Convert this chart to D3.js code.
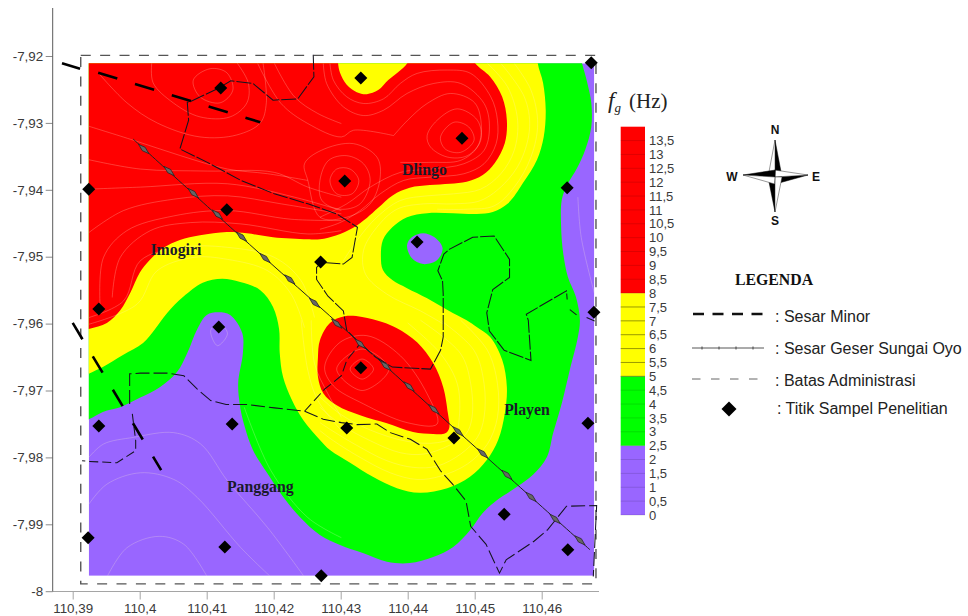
<!DOCTYPE html>
<html><head><meta charset="utf-8">
<script src="https://cdn.jsdelivr.net/npm/d3@7"></script>
<style>html,body{margin:0;background:#fff}svg{display:block}</style></head>
<body><svg id="c" width="968" height="616"></svg>
<script>
// ---- DATA: all map coordinates are [a,b] = thousandths of a degree east of 110.39 and south of -7.92
const lonTicks=[110.39,110.40,110.41,110.42,110.43,110.44,110.45,110.46];
const lonLabels=["110,39","110,4","110,41","110,42","110,43","110,44","110,45","110,46"];
const latTicks=[-7.92,-7.93,-7.94,-7.95,-7.96,-7.97,-7.98,-7.99,-8];
const latLabels=["-7,92","-7,93","-7,94","-7,95","-7,96","-7,97","-7,98","-7,99","-8"];
const scaleLevels=[13.5,13,12.5,12,11.5,11,10.5,10,9.5,9,8.5,8,7.5,7,6.5,6,5.5,5,4.5,4,3.5,3,2.5,2,1.5,1,0.5,0];
const scaleLabels=["13,5","13","12,5","12","11,5","11","10,5","10","9,5","9","8,5","8","7,5","7","6,5","6","5,5","5","4,5","4","3,5","3","2,5","2","1,5","1","0,5","0"];
const bandEdges=[0,2.5,5,8,14];
const bandColors=["#9966ff","#00ff00","#ffff00","#ff0000"];
const plotExtent=[[2.4,1.09],[77.85,77.7]];
const studyFrame=[[1.2,-0.1],[78.1,-0.1],[78.1,78.9],[1.2,78.9]];

const level2p5=[[-3,-3],[75,-3],[76,1],[76.8,4],[77.4,7],[77.4,10.6],[76.5,14],[75.3,16.7],[73.8,19.3],[73,21.5],[72.9,25.6],[73.2,29.4],[73.9,33],[75.1,36],[75.7,39.5],[75.4,42],[74.2,46.9],[73,51.9],[71.7,56.4],[70.8,59.9],[68.7,62.6],[66.3,64.4],[63.3,66.4],[61.2,68.3],[59.3,70.9],[56.8,73.4],[53.8,74.9],[50.3,75.8],[46.9,75.6],[43.3,74.3],[39.9,73.1],[36.9,71.6],[33.9,68.9],[31.4,65.9],[29,62.3],[26.9,58.9],[25.7,55.5],[25,52.5],[24.7,48.9],[25.4,44.4],[25.3,41.4],[23.5,38.7],[21.7,38.3],[20,38.7],[18.6,40.8],[17.1,44.4],[15.6,47.2],[13,49.5],[10,51.1],[7.1,52.5],[4.5,53.2],[2.4,54.3],[-1.9,55.9]];
const level5=[[-3,-3],[69.4,-2.4],[69.4,1],[70.2,4],[70.6,8.1],[70.3,12.1],[69.3,15.5],[67.2,19],[65,22],[62.7,23.3],[60.3,23.6],[56.8,23.5],[52.9,23.5],[49.9,24.1],[47.7,25.6],[46.3,27.5],[46,30],[46.3,32],[47.7,33.5],[49.9,34.7],[52.9,36.2],[56,38],[58.8,39.5],[60.3,40.5],[62.3,42],[64.1,45.4],[64.8,49.5],[64.5,53.4],[63.5,57.4],[61.8,60.4],[59.3,62.9],[55.9,64.6],[51.8,65.3],[48.4,64.6],[44.8,62.9],[41.4,60.8],[38.4,58.9],[36.9,57.4],[34.4,54.4],[32.7,51.4],[31.4,48],[30.9,44.4],[30.8,40.8],[29.9,37.5],[28,35],[25,33.8],[22.3,33.3],[19.4,33.9],[16.5,36],[14.1,38.4],[12.3,40.8],[10.5,42.9],[7.5,44.7],[4.5,46.5],[2.4,47.5],[-1.9,49.6]];
const level8North=[[-3,-3],[39.6,-1.6],[39.6,1],[39.9,2.5],[40.9,4.3],[42.4,5.4],[43.9,5.7],[45.6,5.1],[47.1,3.6],[48.6,2.4],[50,1],[51.5,-3],[58,-3],[60,1],[62.3,3.1],[64.1,6.1],[64.8,9.6],[64.5,13],[63,16],[61.2,17.8],[58.8,18.8],[56.3,19.1],[53.3,19.3],[50.3,19.7],[47.8,20.8],[45.6,22.7],[43.9,24.2],[41.8,25.7],[39.4,26.8],[36.9,27.4],[35,27.4],[29.9,27.1],[26,26.5],[23,26.3],[19,26.8],[16,27.5],[13.5,28.7],[11.5,30.5],[10,32.4],[8.6,35.4],[7.1,38],[5.1,39.9],[2.4,40.8],[-0.4,41.3],[-3.4,41.7]];
const level8South=[[36.6,45.1],[36.9,42.5],[38.4,39.9],[40.6,38.9],[43.2,39],[46.3,39.8],[48.4,40.7],[51.4,42.8],[53.8,45.9],[55.3,49.5],[56,53.4],[56.2,55.6],[55.6,56.4],[53.8,56.5],[50.8,56.2],[46.9,54.9],[42.9,53.7],[39.4,52.2],[37.4,50.4],[36.6,47.9]];
const level2p5Island=[[49.9,28.3],[50.6,27.1],[52.3,26.5],[54,27.1],[55.2,28.7],[54.4,30.5],[52.3,31.1],[50.6,30.2]];

const closedContours=[
[[18,3.6],[20.5,1.9],[23,2.5],[23.9,5.1],[22,7],[19,6.1]],
[[52.9,11.9],[54.4,9.6],[57.4,7.9],[60.4,9.6],[60.9,12.6],[58.9,14.9],[55.9,15.1],[53.4,13.6]],
[[54.9,12.1],[56.9,9.9],[59.1,10.6],[59.9,12.6],[57.9,14.4],[55.6,13.9]],
[[38.4,18.6],[39.4,16.9],[41.4,16.9],[42.7,18.6],[41.7,20.6],[39.4,20.6]],
[[36.9,18.6],[38.2,15.6],[40.9,14.9],[43.4,16.1],[44.4,18.6],[42.9,22.1],[39.9,22.9],[37.2,21.6]],
[[34.6,16.1],[37.1,14.1],[41.9,13.1],[45.4,15.1],[45.9,18.1],[44.4,22.1],[40.9,24.1],[36.9,24.1],[35.1,18.6]],
[[41.4,46.8],[43.2,45.3],[44.9,46.8],[43.2,48.3]],
[[39.4,46.8],[43.2,43.8],[47.2,46.8],[43.2,50]],
[[37.6,46.5],[39.9,42.8],[43.9,41.8],[48.9,44.8],[52.9,50.5],[54.4,55],[49.9,54.8],[43.4,52],[38.9,49.3]],
[[20.6,41],[21.9,40],[23.1,41.5],[21.6,43.3]]
];
const openContours=[
[[11.8,1],[12,4],[15,7],[19,9.1],[23.5,9.1],[26,7],[26.2,4],[24.5,1]],
[[3.8,2.5],[8.1,7],[12.6,10],[19,12.1],[24.5,11.8],[28,10],[28.9,7],[28.4,1]],
[[2.4,10.5],[9.1,12.6],[16.1,14.9],[23.1,16.9],[29.1,17.6],[35.1,18.6]],
[[2.4,15.5],[10.1,16.9],[20.1,17.2],[30.1,17.4],[35.1,19.6],[40.1,21.1]],
[[2.4,19.9],[10.1,19.6],[23.1,19.1],[33.1,21.1],[40.1,23.1]],
[[2.4,26.4],[7.6,23.1],[15.1,21.4],[23.1,20.9],[31.1,22.1],[40.1,23.6]],
[[4.1,37.6],[4.6,30.1],[8.1,26.1],[15.1,23.9],[23.1,23.1],[32.6,24.4],[40.1,24.6]],
[[5.9,36.1],[7.1,30.1],[11.6,26.1],[17.6,24.9],[25.1,25.1],[35.1,26.6],[40.1,26.1]],
[[27.6,1.1],[31.1,7.1],[35.1,10.1],[40.1,12.1],[41.9,11.1],[47.9,11.9]],
[[30.1,1.1],[33.1,6.1],[36.6,8.6],[40.1,10.1]],
[[47.9,11.9],[50,9.6],[52.9,7.1],[56.4,5.6],[60,7],[61,10.6],[60.4,13.6],[57.9,15.6],[53.4,15.9],[48.9,15.9]],
[[38.4,1.1],[38.9,3.6],[40.9,6.1],[43.4,7.1],[46.4,6.4],[48.9,4.1],[51.4,2.6],[55.9,2.1],[59.4,2.6],[62.4,6.1],[63.4,9.6],[63.2,13.1],[61.4,16.1],[58.4,17.6],[53.4,18.1],[49.4,18.6],[45.9,20.6],[42.9,23.1],[39.9,24.9],[36.9,25.9]],
[[37.4,1.1],[37.9,4.1],[40.4,7.6],[43.4,8.9],[46.4,8.1],[49.9,5.6],[53.9,4.1],[57.9,4.1],[61.4,7.1],[62.2,10.6],[61.4,14.1],[58.4,16.1],[53.4,16.9],[48.9,17.4],[44.4,19.6],[40.9,22.1],[36.9,24.1]],
[[61.9,1.1],[64.9,4.6],[66.4,9.6],[65.9,14.1],[63.9,17.6],[60.9,19.9],[56.9,20.6],[52.9,20.9],[48.9,21.6],[45.4,24.1],[42.4,27.6],[40.4,30.6]],
[[65.9,1.1],[68.4,5.1],[69.4,10.1],[68.4,15.1],[65.9,19.6],[62.9,22.4],[58.9,22.9],[54.4,22.9]],
[[63.9,1.1],[67.4,6.1],[68.2,10.6],[66.9,15.6],[64.4,19.1],[60.9,21.6],[56.9,22.1],[52.4,22.1],[48.4,22.9],[45.4,25.6],[43.4,29.1],[43.7,32.6],[46.9,35.6],[51.9,38.1],[55.4,40.1]],
[[57.9,39.5],[61.9,44],[63.4,49],[63.4,54],[61.9,58],[58.9,61],[54.9,62.8],[51.4,63.3],[47.4,62.3],[42.9,60],[38.9,57.5],[36.9,56]],
[[54.9,39.5],[59.9,44],[61.4,49],[61.4,54],[60.4,57],[57.9,59.5],[54.4,61.3],[50.9,61.5],[46.9,60.5],[42.4,58.2],[38.4,55.8],[36.9,54.8]],
[[51.9,39.5],[57.9,44.5],[59.4,49],[59.6,54],[58.7,56.5],[56.2,58.2],[52.4,59.5],[48.9,59.3],[44.4,57.5],[39.9,55],[36.9,52.5]],
[[50,39.9],[54.9,44.5],[57.4,49],[57.7,54],[57,56.8],[54.4,57.8],[49.9,57.6],[44.4,55.9],[39.9,53.5],[36.4,50.5]],
[[34.1,39.5],[35.1,47],[36.6,51.5],[40.1,56]],
[[35.6,39.5],[36.1,46],[38.1,50.5],[40.1,54]],
[[2.4,39.1],[7.6,36.6],[10.1,30.6],[16.1,28.6],[23.1,28.6],[30.1,30.1],[34.1,33.6],[36.1,39.1]],
[[2.4,40.1],[9.6,37.1],[12.6,32.1],[18.1,30.1],[23.1,30.4],[29.1,32.1],[32.6,35.6],[34.6,40.6]],
[[2.4,67],[5.1,64],[10.1,62.3],[15.1,63.3],[18.6,66],[25.1,73.5],[29.6,77.9]],
[[5.1,77.9],[8.1,73.5],[12.9,71.8],[16.6,73],[20.1,77.9]],
[[2.4,60],[4.6,58],[9.1,57],[15.1,56.3],[19.1,58],[23.1,63.5],[29.1,70.5],[34.6,77.9]],
[[75.4,21.1],[75.9,27.1],[77.9,35.6]],
[[25.6,52.5],[29.6,62],[35.1,69],[40.1,72]]
];

const minorFaults=[[[-1.6,1.1],[1.1,1.9]],[[3.8,2.5],[28,9.9]],[[0,39.9],[13.2,61.9]]];
const oyoFault=[[9,12.4],[24.1,26.1],[42.9,42.9],[56.8,55.5],[77.2,73.8]];
const oyoMarkers=[[10.6,13.9],[14.4,17.2],[18,20.5],[21.6,23.7],[25.2,27],[28.7,30.2],[32.4,33.4],[36.1,36.9],[39.4,40],[42.9,43],[46.7,46.3],[50.2,49.4],[53.9,52.8],[57.5,56.1],[61.2,59.4],[64.8,62.6],[68.4,65.9],[72,69.2],[75.7,72.4]];
const adminNorth=[[35.9,-0.2],[36,3.1],[33.6,6.4],[29.9,6.6],[26.9,4.1],[23.6,3.7],[21.6,4.9],[17.6,6.8],[17.1,6.9],[17.3,9.6],[16,13.9],[20.1,15.9],[25.1,18.6],[30.1,20.6],[35.1,22.1],[39.4,23.6],[42.5,25.6],[41.7,30.1],[40.4,31.1],[37.9,30.9],[37.1,30.9],[36.4,31.6],[36.4,33.4],[38.1,35.9],[40.4,38.1],[40.9,41],[42.9,43],[45.2,45],[47.7,46.5],[53.4,46.8],[54.9,44],[55.3,42],[55.3,39.5],[55.3,35.6],[55.2,33.6],[54.5,32.1],[55.4,29.6],[56.2,28.9],[59.7,27.1],[62.9,26.9],[65.2,30.4],[65.2,33.1],[62.7,34.9],[61.8,38.4],[62.2,41.1],[64.4,44],[68.4,45.5],[68,39.5],[67.7,38.6],[73.7,35.1],[73.8,36.4]];
const adminSouth=[[8.5,52],[8.5,47.5],[10.1,47.4],[14.1,47.4],[16.6,47.8],[18.6,49.8],[20.6,51.5],[22.9,52.1],[26.1,52.1],[30.1,52.6],[34.6,53.1],[37.4,54.3],[40.1,54.8],[42.4,55.1],[45.4,55],[47.4,56.3],[50.4,57.3],[52.9,58.8],[54.9,62],[56.7,64],[58.7,66.5],[59.4,70.3],[61.7,73],[63.7,77.3],[64.7,75.3],[68.9,72.5],[70.9,70.8],[73.7,67.3],[78.2,67.2],[77.9,73.5],[77.7,77.8]];
const adminBranch=[[34.6,53.1],[37.6,49.8],[40.1,47.8],[40.9,45.5],[42.9,43]];
const adminWest=[[8.9,53.5],[9.4,57.5],[9.4,59],[6.6,60.8],[2.4,60.6],[1.4,60.5]];
const adminEast=[[[74.2,37.9],[75.2,38.7]],[[76.7,39.1],[77.9,39.6]]];
const samplePoints=[[22.1,4.8],[43,3.3],[58.1,12.3],[40.6,18.7],[2.4,19.9],[23,23],[37,30.8],[51.4,27.8],[3.9,37.8],[21.8,40.5],[43,46.6],[73.8,19.7],[77.8,38.3],[77.4,1],[3.9,55.3],[23.8,55],[40.9,55.6],[56.9,57.1],[76.9,54.9],[2.3,72],[22.7,73.4],[37.1,77.7],[64.4,68.5],[73.9,73.8]];
const placeNames=[["Dlingo",52.5,17.8],["Imogiri",15.4,29.7],["Panggang",28,65.2],["Playen",67.8,53.7]];
const legendLabels=[": Sesar Minor",": Sesar Geser Sungai Oyo",": Batas Administrasi",": Titik Sampel Penelitian"];

// ---- DRAW
const svg=d3.select("#c");
const x=d3.scaleLinear().domain([110.39,110.46]).range([72.7,541.7]);
const y=d3.scaleLinear().domain([-7.92,-8]).range([56,591.2]);
const px=d=>[x(110.39+d[0]/1000),y(-7.92-d[1]/1000)];
const smooth=d3.line().curve(d3.curveCatmullRomClosed.alpha(0.5));
const smoothOpen=d3.line().curve(d3.curveCatmullRom.alpha(0.5));
const straight=d3.line();
const TXT="#3a3a3a", SANS="'Liberation Sans',Arial,sans-serif", SERIF="'Liberation Serif','Times New Roman',serif";

// clip
const [p0,p1]=[px(plotExtent[0]),px(plotExtent[1])];
svg.append("clipPath").attr("id","plot").append("rect").attr("x",p0[0]).attr("y",p0[1]).attr("width",p1[0]-p0[0]).attr("height",p1[1]-p0[1]);
const map=svg.append("g").attr("clip-path","url(#plot)");
map.append("rect").attr("x",p0[0]).attr("y",p0[1]).attr("width",p1[0]-p0[0]).attr("height",p1[1]-p0[1]).attr("fill",bandColors[0]);
const fills=[[level2p5,bandColors[1]],[level5,bandColors[2]],[level2p5Island,bandColors[0]],[level8North,bandColors[3]],[level8South,bandColors[3]]];
map.selectAll("path.fill").data(fills).join("path").attr("class","fill").attr("d",d=>smooth(d[0].map(px))).attr("fill",d=>d[1]);
const cStroke="rgba(255,240,215,.42)";
map.selectAll("path.cc").data(closedContours).join("path").attr("class","cc").attr("d",d=>smooth(d.map(px))).attr("fill","none").attr("stroke",cStroke).attr("stroke-width",.6);
map.selectAll("path.oc").data(openContours).join("path").attr("class","oc").attr("d",d=>smoothOpen(d.map(px))).attr("fill","none").attr("stroke",cStroke).attr("stroke-width",.6);

// axes
const gx=svg.append("g").attr("transform","translate(0,591.5)");
gx.call(d3.axisBottom(x).tickValues(lonTicks).tickFormat((d,i)=>lonLabels[i]).tickSize(8).tickSizeOuter(0));
const gy=svg.append("g").attr("transform","translate(52.7,0)");
gy.call(d3.axisLeft(y).tickValues(latTicks).tickFormat((d,i)=>latLabels[i]).tickSize(7).tickSizeOuter(0));
gx.select(".domain").remove(); gy.select(".domain").remove();
svg.append("line").attr("x1",52.7).attr("x2",599).attr("y1",591.5).attr("y2",591.5).attr("stroke","#a5a5a5");
svg.append("line").attr("x1",52.7).attr("x2",52.7).attr("y1",8).attr("y2",591.5).attr("stroke","#5a5a5a");
gx.selectAll(".tick line").attr("stroke","#a5a5a5");
gy.selectAll(".tick line").attr("stroke","#8a8a8a");
svg.selectAll(".tick text").attr("font-family",SANS).attr("font-size",13.4).attr("fill",TXT);
gx.selectAll(".tick text").attr("y",12);
gy.selectAll(".tick text").attr("x",-9.5);

// frame
svg.append("path").attr("d",straight(studyFrame.map(px))+"Z").attr("fill","none").attr("stroke","#555").attr("stroke-width",1.4).attr("stroke-dasharray","10 9.4");

// faults and boundaries
const adminLines=[[adminNorth,"15 2"],[adminSouth,"14 4"],[adminBranch,"10 4"],[adminWest,"9 4"],[adminEast[0],null],[adminEast[1],null]];
svg.selectAll("path.admin").data(adminLines).join("path").attr("class","admin").attr("d",d=>straight(d[0].map(px))).attr("fill","none").attr("stroke","#14141f").attr("stroke-width",1.05).attr("stroke-dasharray",d=>d[1]);
svg.append("path").attr("d",smoothOpen(oyoFault.map(px))).attr("fill","none").attr("stroke","#222").attr("stroke-width",1);
const rhomb=d3.line()([[-7,0],[0,-2.2],[7,0],[0,2.2]])+"Z";
svg.selectAll("path.mk").data(oyoMarkers).join("path").attr("class","mk").attr("d",rhomb)
 .attr("transform",d=>{const p=px(d);return `translate(${p[0]},${p[1]}) rotate(42)`}).attr("fill","#666").attr("stroke","#222").attr("stroke-width",.7);
minorFaults.forEach((f,i)=>svg.append("path").attr("d",straight(f.map(px))).attr("fill","none").attr("stroke","#000").attr("stroke-width",2.6).attr("stroke-dasharray",i==0?null:(i==1?"20 18.5":"19 20")));

// sample points
const diamond=d3.line()([[0,-6.5],[6.5,0],[0,6.5],[-6.5,0]])+"Z";
svg.selectAll("path.pt").data(samplePoints).join("path").attr("class","pt").attr("d",diamond).attr("transform",d=>`translate(${px(d)})`).attr("fill","#000");

// place names
svg.selectAll("text.pl").data(placeNames).join("text").attr("class","pl").attr("x",d=>x(110.39+d[1]/1000)).attr("y",d=>y(-7.92-d[2]/1000)).attr("text-anchor","middle").attr("font-family",SERIF).attr("font-weight","bold").attr("font-size",15.8).attr("fill","#1a1a2a").text(d=>d[0]);

// colour bar
const cb=d3.scaleLinear().domain([0,14]).range([515,126.7]);
const bands=d3.pairs(bandEdges);
svg.selectAll("rect.b").data(bands).join("rect").attr("class","b").attr("x",620.7).attr("width",24.3).attr("y",d=>cb(d[1])).attr("height",d=>cb(d[0])-cb(d[1])).attr("fill",(d,i)=>bandColors[i]);
svg.selectAll("line.bl").data(scaleLevels).join("line").attr("class","bl").attr("x1",620.7).attr("x2",645).attr("y1",d=>cb(d)).attr("y2",d=>cb(d)).attr("stroke",d=>d>=5&&d<8?"rgba(0,0,0,.5)":"rgba(0,0,0,.16)").attr("stroke-width",.8);
svg.selectAll("text.bt").data(scaleLevels).join("text").attr("class","bt").attr("x",649).attr("y",d=>cb(d)).attr("dy","0.36em").attr("font-family",SANS).attr("font-size",13).attr("fill",TXT).text((d,i)=>scaleLabels[i]);
const title=svg.append("text").attr("x",608).attr("y",108).attr("font-family",SERIF).attr("font-size",21).attr("fill","#222");
title.append("tspan").attr("font-style","italic").attr("font-size",23).text("f");
title.append("tspan").attr("font-style","italic").attr("font-size",13).attr("dy",4).text("g");
title.append("tspan").attr("dy",-4).attr("x",629).text("(Hz)");

// compass
const c=[775,177];
const star=svg.append("g").attr("transform",`translate(${c})`);
[[0,-37],[33,-2],[0,35],[-32,-2]].forEach(([tx,ty])=>{
  const n=[-ty,tx].map(v=>v/Math.hypot(tx,ty)*7);
  star.append("path").attr("d",d3.line()([[0,0],[tx,ty],[n[0],n[1]]])+"Z").attr("fill","#000").attr("stroke","#000").attr("stroke-width",.5);
  star.append("path").attr("d",d3.line()([[0,0],[tx,ty],[-n[0],-n[1]]])+"Z").attr("fill","#fff").attr("stroke","#333").attr("stroke-width",.5);
});
[["N",775,130],["S",775,221],["W",732,177],["E",816,177]].forEach(d=>svg.append("text").attr("x",d[1]).attr("y",d[2]).attr("dy","0.36em").attr("text-anchor","middle").attr("font-family",SANS).attr("font-weight","bold").attr("font-size",12).attr("fill","#111").text(d[0]));

// legend
svg.append("text").attr("x",774).attr("y",285).attr("text-anchor","middle").attr("font-family",SERIF).attr("font-weight","bold").attr("font-size",15.8).attr("fill","#111").text("LEGENDA");
const ly=[316,348,380,408];
svg.selectAll("text.lg").data(legendLabels).join("text").attr("class","lg").attr("x",(d,i)=>i==3?777:775).attr("y",(d,i)=>ly[i]).attr("dy","0.36em").attr("font-family",SANS).attr("font-size",16).attr("fill","#222").text(d=>d);
svg.append("line").attr("x1",693).attr("x2",763).attr("y1",314).attr("y2",314).attr("stroke","#111").attr("stroke-width",2.4).attr("stroke-dasharray","11 8.5");
svg.append("line").attr("x1",692).attr("x2",764).attr("y1",348).attr("y2",348).attr("stroke","#444").attr("stroke-width",.9);
[702,719,736,753].forEach(v=>svg.append("line").attr("x1",v).attr("x2",v).attr("y1",346.5).attr("y2",349.5).attr("stroke","#444").attr("stroke-width",1));
svg.append("line").attr("x1",692).attr("x2",764).attr("y1",379).attr("y2",379).attr("stroke","#666").attr("stroke-width",1).attr("stroke-dasharray","8.5 10.5");
svg.append("path").attr("d",d3.line()([[0,-7.5],[7.5,0],[0,7.5],[-7.5,0]])+"Z").attr("transform","translate(729,409)").attr("fill","#000");
</script></body></html>
